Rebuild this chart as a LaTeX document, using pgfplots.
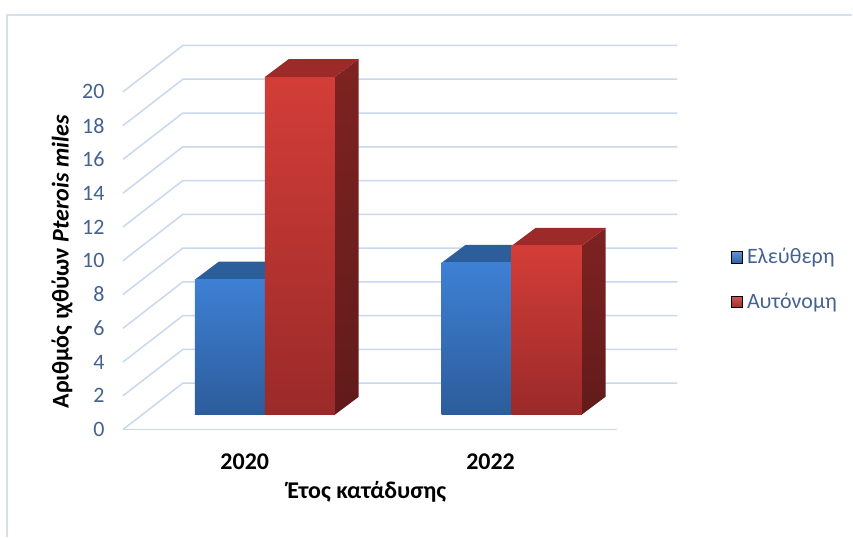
\documentclass[border=0pt]{standalone}
\usepackage{pgfplots}
\pgfplotsset{compat=1.18}
\usepackage{fontspec}
\setmainfont{Carlito}
\definecolor{gridc}{HTML}{C8D8EE}
\definecolor{framec}{HTML}{D4DFEF}
\definecolor{tickc}{HTML}{44628F}
\definecolor{blueFT}{HTML}{3E80D4}
\definecolor{blueFB}{HTML}{2C5C9B}
\definecolor{blueTop}{HTML}{2D5E9C}
\definecolor{blueST}{HTML}{23497A}
\definecolor{blueSB}{HTML}{1A365C}
\definecolor{redFT}{HTML}{D33D38}
\definecolor{redFB}{HTML}{9A2A29}
\definecolor{redTop}{HTML}{9C2A28}
\definecolor{redST}{HTML}{7E2322}
\definecolor{redSB}{HTML}{611B1A}
\definecolor{legBlue}{HTML}{3A78C8}
\definecolor{legRed}{HTML}{C63A36}
% geometry (x: category units, y: values)
\def\bw{0.2846}   % bar width
\def\bdx{0.0976}  % bar depth (x)
\def\bdy{1.065}   % bar depth (y)
\def\by{0.88}     % bar front offset (y)
\newcommand\cuboid[3]{%
  \pgfmathsetmacro\xa{#1}%
  \pgfmathsetmacro\xb{#1+\bw}%
  \pgfmathsetmacro\xc{#1+\bw+\bdx}%
  \pgfmathsetmacro\xd{#1+\bdx}%
  \pgfmathsetmacro\ya{\by}%
  \pgfmathsetmacro\yb{\by+#2}%
  \pgfmathsetmacro\yc{\by+#2+\bdy}%
  \pgfmathsetmacro\yd{\by+\bdy}%
  \addplot[forget plot, draw=none, top color=#3ST, bottom color=#3SB]
    coordinates {(\xb,\ya) (\xc,\yd) (\xc,\yc) (\xb,\yb)} -- cycle;
  \addplot[forget plot, draw=none, fill=#3Top]
    coordinates {(\xa,\yb) (\xb,\yb) (\xc,\yc) (\xd,\yc)} -- cycle;
  \addplot[forget plot, draw=none, top color=#3FT, bottom color=#3FB]
    coordinates {(\xa,\ya) (\xb,\ya) (\xb,\yb) (\xa,\yb)} -- cycle;
}
\begin{document}
\begin{tikzpicture}
\begin{axis}[
  x=123pt, y=8.45pt,
  scale only axis,
  xmin=-0.4959, xmax=1.5163, ymin=0, ymax=20,
  clip=false,
  axis line style={draw=none},
  tick style={draw=none},
  xtick={0,1}, xticklabels={2020,2022},
  ytick={0,2,...,20},
  /pgf/number format/assume math mode=true,
  xticklabel style={anchor=center, yshift=-16pt, font=\fontsize{12}{14}\selectfont\bfseries, text=black},
  yticklabel style={anchor=east, inner sep=0pt, xshift=-9pt, font=\fontsize{11}{13}\selectfont, text=tickc},
  xlabel={Έτος κατάδυσης},
  ylabel={Αριθμός ιχθύων \textit{Pterois miles}},
  every axis x label/.style={at={(axis cs:0.496,-3.67)}, anchor=center, font=\fontsize{12}{14}\selectfont\bfseries},
  every axis y label/.style={at={(axis cs:-0.7439,9.94)}, anchor=center, rotate=90, font=\fontsize{12}{14}\selectfont\bfseries},
  legend style={at={(axis cs:1.975,8.876)}, anchor=west, draw=none, fill=none,
    inner sep=0pt, row sep=9pt, font=\fontsize{11}{13}\selectfont, text=tickc,
    nodes={inner sep=2pt}},
  legend cell align=left,
]
% bounding box and frame
\addplot[forget plot, draw=none] coordinates {(-0.9959,-6.331) (2.4715,25.444)};
\addplot[forget plot, draw=framec, line width=0.75pt] coordinates {(-0.9675,-6.331) (-0.9675,24.556) (2.4715,24.556)};
% walls
\pgfplotsinvokeforeach{0,2,...,20}{
  \addplot[forget plot, draw=gridc, line width=0.75pt]
    coordinates {(-0.4959,#1) (-0.2520,#1+2.751) (1.7602,#1+2.751)};
}
\addplot[forget plot, draw=gridc, line width=0.75pt] coordinates {(-0.4959,0) (1.5163,0)};
% bars: (front-left x, value, series)
\cuboid{-0.2033}{8}{blue}
\cuboid{0.0813}{20}{red}
\cuboid{0.8008}{9}{blue}
\cuboid{1.0854}{10}{red}
\addlegendimage{legend image code/.code={\fill[top color=legBlue!80!white, bottom color=legBlue!80!black] (-2.5pt,-2.9pt) rectangle (3.3pt,2.9pt);}}
\addlegendentry{Ελεύθερη}
\addlegendimage{legend image code/.code={\fill[top color=legRed!85!white, bottom color=legRed!80!black] (-2.5pt,-2.9pt) rectangle (3.3pt,2.9pt);}}
\addlegendentry{Αυτόνομη}
\end{axis}
\end{tikzpicture}
\end{document}
